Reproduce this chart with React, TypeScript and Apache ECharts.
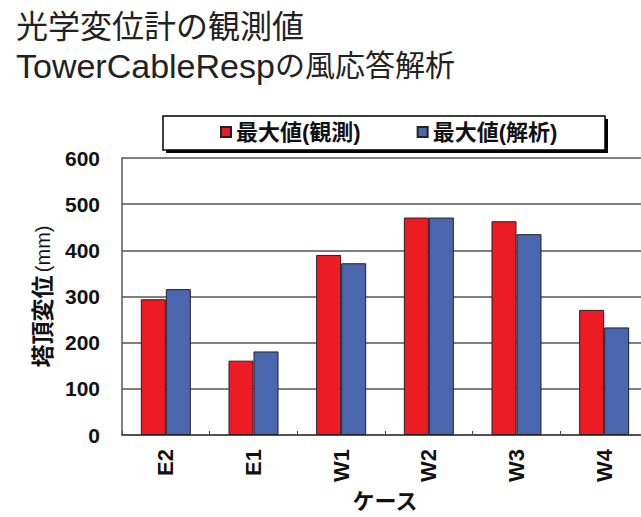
import React, { useEffect, useRef } from "react";
import * as echarts from "echarts";

const titleLine1 = "光学変位計の観測値";
const titleLine2Latin = "TowerCableResp";
const titleLine2Cjk = "の風応答解析";
const categories = ["E2", "E1", "W1", "W2", "W3", "W4"];
const observedName = "最大値(観測)";
const analysisName = "最大値(解析)";
const observed = [294, 161, 390, 471, 463, 271];
const analysis = [316, 181, 372, 471, 435, 233];
const yAxisNameMain = "塔頂変位";
const yAxisNameUnit = "(mm)";
const xAxisName = "ケース";

const FONT = "'Liberation Sans', Arial, 'Noto Sans CJK JP', sans-serif";

export default function App() {
  const ref = useRef<HTMLDivElement>(null);
  useEffect(() => {
    document.body.style.margin = "0";
    document.body.style.overflow = "hidden";
    const chart = echarts.init(ref.current!, null, { renderer: "svg" });
    chart.setOption({
      animation: false,
      backgroundColor: "#ffffff",
      title: [
        {
          text: titleLine1,
          left: 11,
          top: 6,
          textStyle: { fontFamily: FONT, fontSize: 32, fontWeight: "normal", color: "#222" },
        },
        {
          text: `{a|${titleLine2Latin}}{b|${titleLine2Cjk}}`,
          left: 11,
          top: 44,
          textStyle: {
            fontWeight: "normal",
            rich: {
              a: { fontFamily: FONT, fontSize: 34, fontWeight: "normal", color: "#222" },
              b: { fontFamily: FONT, fontSize: 30, fontWeight: "normal", color: "#222" },
            },
          },
        },
      ],
      graphic: [
        { type: "rect", z: 0, shape: { x: 166, y: 119, width: 442, height: 34 }, style: { fill: "#000" } },
        {
          type: "rect",
          z: 1,
          shape: { x: 163, y: 116, width: 442, height: 34 },
          style: { fill: "#fff", stroke: "#000", lineWidth: 1.5 },
        },
      ],
      legend: {
        z: 10,
        left: 220,
        top: 121,
        padding: 0,
        itemWidth: 10,
        itemHeight: 10,
        itemGap: 56,
        icon: "rect",
        textStyle: { fontFamily: FONT, fontSize: 22, fontWeight: "bold", color: "#111" },
        data: [observedName, analysisName],
      },
      grid: {
        left: 122,
        top: 158,
        right: 0,
        bottom: 82,
        containLabel: false,
        outerBoundsMode: "none",
      },
      xAxis: {
        type: "category",
        data: categories,
        name: xAxisName,
        nameLocation: "middle",
        nameGap: 55,
        nameTextStyle: { fontFamily: FONT, fontSize: 22, fontWeight: "bold", color: "#111" },
        axisLine: { lineStyle: { color: "#444", width: 1.5 } },
        axisTick: { show: true, inside: true, length: 4, lineStyle: { color: "#444" } },
        axisLabel: {
          rotate: 90,
          margin: 14,
          fontFamily: FONT,
          fontSize: 22,
          fontWeight: "bold",
          color: "#111",
        },
      },
      yAxis: {
        type: "value",
        min: 0,
        max: 600,
        interval: 100,
        name: `{a|${yAxisNameMain}} {b|${yAxisNameUnit}}`,
        nameLocation: "middle",
        nameGap: 68,
        nameRotate: 90,
        nameTextStyle: {
          rich: {
            a: { fontFamily: FONT, fontSize: 23, fontWeight: "bold", color: "#111" },
            b: { fontFamily: FONT, fontSize: 20, color: "#111" },
          },
        },
        axisLine: { show: true, lineStyle: { color: "#555", width: 1.5 } },
        axisTick: { show: false },
        splitLine: { lineStyle: { color: "#555", width: 1.5 } },
        axisLabel: {
          margin: 22,
          fontFamily: FONT,
          fontSize: 21,
          fontWeight: "bold",
          color: "#111",
        },
      },
      series: [
        {
          name: observedName,
          type: "bar",
          data: observed,
          barWidth: 25,
          barGap: "0%",
          itemStyle: { color: "#ED1C24", borderColor: "#222", borderWidth: 1 },
        },
        {
          name: analysisName,
          type: "bar",
          data: analysis,
          barWidth: 25,
          barGap: "0%",
          itemStyle: { color: "#4A66AE", borderColor: "#222", borderWidth: 1 },
        },
      ],
    });
    return () => chart.dispose();
  }, []);
  return <div ref={ref} style={{ width: 648, height: 517 }} />;
}
